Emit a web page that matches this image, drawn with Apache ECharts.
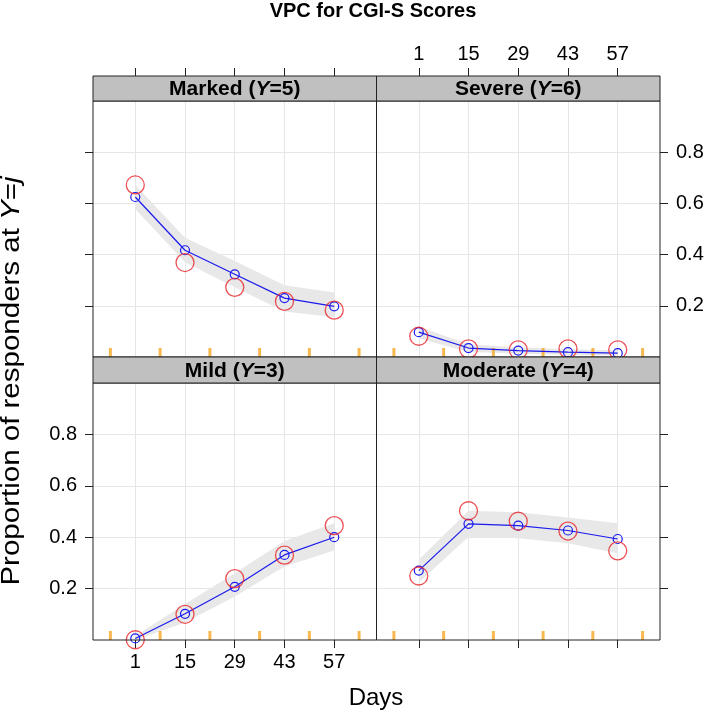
<!DOCTYPE html>
<html>
<head>
<meta charset="utf-8">
<script src="https://cdn.jsdelivr.net/npm/echarts@6/dist/echarts.min.js"></script>
<style>
html,body{margin:0;padding:0;background:#fff;}
#chart{width:709px;height:717px;}
</style>
</head>
<body>
<div id="chart"></div>
<script>
// ---- data ----
var days = [1, 15, 29, 43, 57];
var dayTicks = [1, 15, 29, 43, 57];
var yTicks = [0.2, 0.4, 0.6, 0.8];
var binEdges = [-6, 8, 22, 36, 50, 64];
var panelNames = ['Marked', 'Severe', 'Mild', 'Moderate'];
var panelLevels = ['5', '6', '3', '4'];

// Marked (Y=5)
var markedPred  = [0.625, 0.417, 0.323, 0.230, 0.198];
var markedObs   = [0.672, 0.369, 0.272, 0.217, 0.183];
var markedLower = [0.578, 0.370, 0.272, 0.178, 0.155];
var markedUpper = [0.672, 0.466, 0.375, 0.280, 0.252];
// Severe (Y=6)
var severePred  = [0.097, 0.035, 0.025, 0.019, 0.015];
var severeObs   = [0.081, 0.032, 0.028, 0.032, 0.028];
var severeLower = [0.072, 0.020, 0.014, 0.008, 0.006];
var severeUpper = [0.118, 0.050, 0.038, 0.030, 0.026];
// Mild (Y=3)
var mildPred  = [0.006, 0.102, 0.207, 0.331, 0.400];
var mildObs   = [0.001, 0.100, 0.239, 0.330, 0.445];
var mildLower = [0.000, 0.068, 0.169, 0.286, 0.348];
var mildUpper = [0.016, 0.140, 0.260, 0.385, 0.454];
// Moderate (Y=4)
var modPred  = [0.270, 0.452, 0.445, 0.426, 0.393];
var modObs   = [0.249, 0.503, 0.462, 0.424, 0.347];
var modLower = [0.224, 0.402, 0.396, 0.376, 0.337];
var modUpper = [0.312, 0.503, 0.497, 0.477, 0.454];

var preds  = [markedPred, severePred, mildPred, modPred];
var obss   = [markedObs, severeObs, mildObs, modObs];
var lowers = [markedLower, severeLower, mildLower, modLower];
var uppers = [markedUpper, severeUpper, mildUpper, modUpper];

// ---- layout ----
var FONT = 'Liberation Sans, Arial, Helvetica, sans-serif';
var L = 93, MID = 376.5, R = 660;
var STRIP_TOP1 = 76, PANEL_TOP1 = 101, PANEL_BOT1 = 357;
var STRIP_TOP2 = 357, PANEL_TOP2 = 383, PANEL_BOT2 = 640;
var gridsPos = [
  {left: L,   top: PANEL_TOP1, width: MID - L, height: PANEL_BOT1 - PANEL_TOP1},
  {left: MID, top: PANEL_TOP1, width: R - MID, height: PANEL_BOT1 - PANEL_TOP1},
  {left: L,   top: PANEL_TOP2, width: MID - L, height: PANEL_BOT2 - PANEL_TOP2},
  {left: MID, top: PANEL_TOP2, width: R - MID, height: PANEL_BOT2 - PANEL_TOP2}
];
var stripTops = [STRIP_TOP1, STRIP_TOP1, STRIP_TOP2, STRIP_TOP2];

var grids = [], xAxes = [], yAxes = [], series = [], graphics = [];
function pairs(xs, ys){ return xs.map(function(x, k){ return [x, ys[k]]; }); }

for (var i = 0; i < 4; i++) {
  var g = gridsPos[i];
  grids.push({left: g.left, top: g.top, width: g.width, height: g.height,
    show: false, containLabel: false});
  var topRow = i < 2, leftCol = (i % 2 === 0);
  var showX = (i === 1 || i === 2);
  var showY = (i === 1 || i === 2);
  xAxes.push({
    type: 'value', gridIndex: i, min: -10.9, max: 68.9,
    position: topRow ? 'top' : 'bottom', offset: topRow ? 25 : 0,
    axisLine: {show: false, onZero: false},
    axisTick: {show: true, length: 8, lineStyle: {color: '#222', width: 1}, customValues: dayTicks},
    axisLabel: {show: showX, customValues: dayTicks, fontSize: 20, color: '#000', fontFamily: FONT, margin: 12},
    splitLine: {show: true, lineStyle: {color: '#e6e6e6', width: 1}}
  });
  yAxes.push({
    type: 'value', gridIndex: i, min: 0, max: 1,
    position: leftCol ? 'left' : 'right',
    axisLine: {show: false, onZero: false},
    axisTick: {show: true, length: 8, lineStyle: {color: '#222', width: 1}, customValues: yTicks},
    axisLabel: {show: showY, customValues: yTicks, fontSize: 20, color: '#000', fontFamily: FONT, margin: 16,
      formatter: function(v){ return v.toFixed(1); }},
    splitLine: {show: true, lineStyle: {color: '#e6e6e6', width: 1}}
  });
  (function(idx){
    series.push({
      type: 'custom', xAxisIndex: idx, yAxisIndex: idx, silent: true, z: 1,
      data: [[days[0], lowers[idx][0]]],
      renderItem: function(params, api){
        var pts = [];
        for (var k = 0; k < days.length; k++) pts.push(api.coord([days[k], uppers[idx][k]]));
        for (var k2 = days.length - 1; k2 >= 0; k2--) pts.push(api.coord([days[k2], lowers[idx][k2]]));
        return {type: 'polygon', shape: {points: pts}, style: {fill: '#e8e8e8', stroke: 'none'}};
      }
    });
  })(i);
  series.push({
    type: 'line', xAxisIndex: i, yAxisIndex: i, z: 3,
    data: pairs(days, preds[i]),
    symbol: 'circle', symbolSize: 9, showSymbol: true,
    lineStyle: {color: '#1a1aee', width: 1.2},
    itemStyle: {color: 'rgba(0,0,0,0)', borderColor: '#1a1aee', borderWidth: 1.2},
    animation: false
  });
  series.push({
    type: 'scatter', xAxisIndex: i, yAxisIndex: i, z: 4,
    data: pairs(days, obss[i]),
    symbol: 'circle', symbolSize: 18,
    itemStyle: {color: 'rgba(0,0,0,0)', borderColor: '#e8242a', borderWidth: 1.3},
    animation: false
  });
  series.push({
    type: 'scatter', xAxisIndex: i, yAxisIndex: i, z: 2,
    data: binEdges.map(function(e){ return [e, 0]; }),
    symbol: 'rect', symbolSize: [3, 9], symbolOffset: [0, -4.5],
    itemStyle: {color: '#f5a623'}, animation: false
  });
  // panel border
  graphics.push({
    type: 'rect', shape: {x: g.left, y: g.top, width: g.width, height: g.height},
    style: {fill: 'none', stroke: '#222', lineWidth: 1}, z: 9, silent: true
  });
  // strip
  graphics.push({
    type: 'rect', shape: {x: g.left, y: stripTops[i], width: g.width, height: g.top - stripTops[i]},
    style: {fill: '#c0c0c0', stroke: '#222', lineWidth: 1}, z: 10, silent: true
  });
  graphics.push({
    type: 'text', x: g.left + g.width / 2, y: stripTops[i] + (g.top - stripTops[i]) / 2 + 1, z: 11,
    style: {
      text: '{b|' + panelNames[i] + ' (}{bi|Y}{b|=' + panelLevels[i] + ')}',
      align: 'center', verticalAlign: 'middle',
      rich: {
        b: {fontSize: 21, fontWeight: 'bold', fontFamily: FONT, fill: '#000'},
        bi: {fontSize: 21, fontWeight: 'bold', fontStyle: 'italic', fontFamily: FONT, fill: '#000'}
      }
    }
  });
}

// titles
graphics.push({
  type: 'text', x: 373, y: 11, z: 11,
  style: {text: 'VPC for CGI-S Scores', fontSize: 20, fontWeight: 'bold', fontFamily: FONT, fill: '#000',
    align: 'center', verticalAlign: 'middle'}
});
graphics.push({
  type: 'text', x: 376, y: 698, z: 11,
  style: {text: 'Days', fontSize: 24, fontFamily: FONT, fill: '#000', align: 'center', verticalAlign: 'middle'}
});
graphics.push({
  type: 'text', x: 12, y: 381, rotation: Math.PI / 2, scaleX: 1.18, z: 11,
  style: {
    text: '{n|Proportion of responders at }{i|Y}{n|=}{i|j}',
    align: 'center', verticalAlign: 'middle',
    rich: {
      n: {fontSize: 25, fontFamily: FONT, fill: '#000'},
      i: {fontSize: 25, fontStyle: 'italic', fontFamily: FONT, fill: '#000'}
    }
  }
});

var chart = echarts.init(document.getElementById('chart'), null, {renderer: 'canvas'});
chart.setOption({
  animation: false,
  backgroundColor: '#fff',
  grid: grids,
  xAxis: xAxes,
  yAxis: yAxes,
  series: series,
  graphic: graphics
});
</script>
</body>
</html>
